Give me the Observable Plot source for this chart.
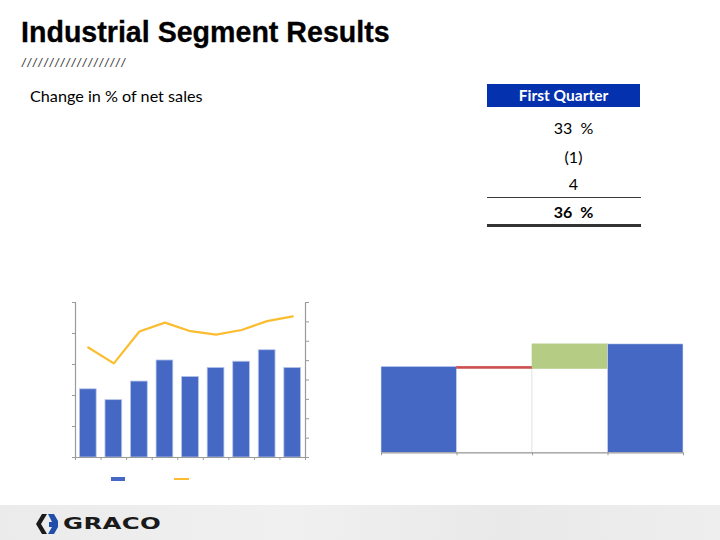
<!DOCTYPE html>
<html>
<head>
<meta charset="utf-8">
<script src="https://cdn.jsdelivr.net/npm/d3@7"></script>
<script src="https://cdn.jsdelivr.net/npm/@observablehq/plot@0.6"></script>
<style>
  html, body { margin: 0; padding: 0; background: #ffffff; }
  #page { position: relative; width: 720px; height: 540px; overflow: hidden; background: #ffffff; }
  .abs { position: absolute; white-space: nowrap; }
  #title { left: 21px; top: 15px; font-family: "Liberation Sans", Arial, sans-serif; font-weight: bold; font-size: 28.6px; color: #000; line-height: 34px; -webkit-text-stroke: 0.3px #000; }
  #slashes { left: 22px; top: 55px; font-family: "Liberation Sans", Arial, sans-serif; font-style: italic; font-size: 12px; color: #333; letter-spacing: 2.2px; line-height: 16px; }
  #subtitle { left: 30px; top: 86px; font-family: Lato, "Open Sans", sans-serif; font-size: 16.2px; color: #000; line-height: 20px; }
  #tblHead { left: 487px; top: 84px; width: 153px; height: 23px; background: #0431ad; color: #fff; font-family: Lato, sans-serif; font-weight: bold; font-size: 15.5px; line-height: 23px; text-align: center; }
  .row { left: 487px; width: 173px; text-align: center; font-family: Lato, sans-serif; font-size: 16px; color: #000; line-height: 18px; word-spacing: 4px; }
  #rule1 { left: 487px; top: 197px; width: 154px; height: 0; border-top: 1.6px solid #3a3a3a; }
  #rule2 { left: 487px; top: 224px; width: 154px; height: 3px; background: #333; }
  #leftChart { left: 60px; top: 292px; }
  #rightChart { left: 370px; top: 330px; }
  #legBar { left: 111px; top: 477px; width: 14px; height: 4px; background: #4468c4; }
  #legLine { left: 174px; top: 478px; width: 15px; height: 2px; background: #fbbd2f; }
  #footer { left: 0; top: 505px; width: 720px; height: 35px; background: linear-gradient(90deg, #ebebeb, #f0f0f0 40%, #e9e9e9 70%, #eeeeee); }
  #logoText { left: 63px; top: 515px; font-family: "DejaVu Sans", sans-serif; font-weight: bold; font-size: 15px; color: #1a1a1a; transform: scale(1.63, 1); transform-origin: left center; line-height: 18px; letter-spacing: 0.2px; }
  #logoMark { left: 35px; top: 513px; }
</style>
</head>
<body>
<div id="page">
  <div class="abs" id="title">Industrial Segment Results</div>
  <div class="abs" id="slashes">///////////////////</div>
  <div class="abs" id="subtitle">Change in % of net sales</div>

  <div class="abs" id="tblHead">First Quarter</div>
  <div class="abs row" style="top:119px;">33 %</div>
  <div class="abs row" style="top:148px;">(1)</div>
  <div class="abs row" style="top:175px;">4</div>
  <div class="abs" id="rule1"></div>
  <div class="abs row" style="top:203px; font-weight:bold;">36 %</div>
  <div class="abs" id="rule2"></div>

  <div class="abs" id="leftChart"></div>
  <div class="abs" id="rightChart"></div>
  <div class="abs" id="legBar"></div>
  <div class="abs" id="legLine"></div>

  <div class="abs" id="footer"></div>
  <svg class="abs" id="logoMark" width="24" height="22" viewBox="0 0 24 22">
    <polygon points="7,1 12,1 6,11 12,21 7,21 1,11" fill="#1a1a1a"/>
    <polygon points="13,1 19,1 23,8 23,14 19,21 13,21 17,14 14,14 14,9 17,9" fill="#1f4fa8"/>
  </svg>
  <div class="abs" id="logoText">GRACO</div>
</div>
<script>
// ---------- Data ----------
const periods = ["P1", "P2", "P3", "P4", "P5", "P6", "P7", "P8", "P9"];
const barValues = [22.0, 18.5, 24.5, 31.3, 26.0, 28.9, 30.9, 34.6, 28.9];   // left axis
const lineValues = [28.4, 24.3, 32.5, 34.8, 32.6, 31.7, 32.9, 35.2, 36.4];  // right axis
const leftTicks = [0, 10, 20, 30, 40, 50];
const rightTicks = [0, 5, 10, 15, 20, 25, 30, 35, 40];

const wfCategories = ["Prior year", "Change A", "Change B", "Current year"];
const wfChanges = [33, -0.77, 9.36];   // start, decrease, increase
const wfTotal = 41.6;

// ---------- Colors ----------
const blue = "#4468c4";
const gold = "#fbbd2f";
const axisGrey = "#9a9a9a";
const red = "#cd4f4f";
const green = "#b4cc84";

// ---------- Left combo chart ----------
const leftMax = leftTicks[leftTicks.length - 1];
const rightMax = rightTicks[rightTicks.length - 1];
const k = leftMax / rightMax;
const leftData = periods.map((p, i) => ({p, i, bar: barValues[i], line: lineValues[i]}));

const left = Plot.plot({
  width: 260, height: 175,
  marginLeft: 15, marginRight: 15, marginTop: 10, marginBottom: 10,
  x: {domain: [0, periods.length]},
  y: {domain: [0, leftMax]},
  marks: [
    Plot.rectY(leftData, {x1: d => d.i, x2: d => d.i + 1, y: "bar", fill: blue, insetLeft: 4.4, insetRight: 4.4, stroke: "#b9c6ea", strokeWidth: 0.8}),
    Plot.line(leftData, {x: d => d.i + 0.5, y: d => d.line * k, stroke: gold, strokeWidth: 2.2}),
    Plot.ruleX([0, periods.length], {stroke: axisGrey, strokeWidth: 1.2}),
    Plot.ruleY([0], {stroke: axisGrey, strokeWidth: 1.2}),
    Plot.axisY(leftTicks, {anchor: "left", tickSize: 3, tickFormat: () => "", label: null, stroke: axisGrey}),
    Plot.axisY(rightTicks.map(v => v * k), {anchor: "right", tickSize: 3, tickFormat: () => "", label: null, stroke: axisGrey}),
    Plot.axisX(d3.range(0, periods.length + 1), {anchor: "bottom", tickSize: 3, tickFormat: () => "", label: null, stroke: axisGrey})
  ]
});
document.getElementById("leftChart").appendChild(left);

// ---------- Right waterfall ----------
let run = 0;
const wfData = [];
wfChanges.forEach((v, i) => {
  if (i === 0) {
    wfData.push({i, y1: 0, y2: v, fill: blue, stroke: "#dfe5f3"});
  } else {
    const c = v < 0 ? red : green;
    wfData.push({i, y1: run, y2: run + v, fill: c, stroke: c});
  }
  run += v;
});
wfData.push({i: wfCategories.length - 1, y1: 0, y2: wfTotal, fill: blue, stroke: "#dfe5f3"});
const wfBase = wfData.filter(d => d.i > 0 && d.i < wfCategories.length - 1)
  .map(d => ({i: d.i, y1: 0, y2: Math.min(d.y1, d.y2)}));

const right = Plot.plot({
  width: 330, height: 135,
  marginLeft: 11, marginRight: 17, marginTop: 5, marginBottom: 12.7,
  x: {domain: [0, wfCategories.length]},
  y: {domain: [0, 45]},
  marks: [
    Plot.rectY(wfBase, {x1: d => d.i, x2: d => d.i + 1, y1: "y1", y2: "y2", fill: "#ffffff", stroke: "#e4e4e4", strokeWidth: 0.8}),
    Plot.rectY(wfData, {x1: d => d.i, x2: d => d.i + 1, y1: "y1", y2: "y2", fill: d => d.fill, stroke: d => d.stroke, strokeWidth: 0.6}),
    Plot.ruleY([0], {stroke: axisGrey, strokeWidth: 1.2}),
    Plot.axisX(d3.range(0, wfCategories.length + 1), {anchor: "bottom", tickSize: 3, tickFormat: () => "", label: null, stroke: axisGrey}),
    Plot.axisY([], {label: null})
  ]
});
document.getElementById("rightChart").appendChild(right);
</script>
</body>
</html>
